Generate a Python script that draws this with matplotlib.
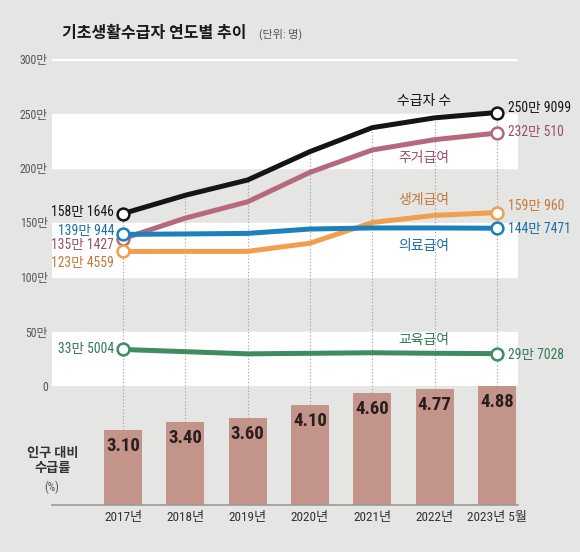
import matplotlib
matplotlib.use("Agg")
import matplotlib.pyplot as plt
import numpy as np

plt.rcParams['font.family'] = ['Roboto Condensed', 'Archivo Narrow', 'Noto Sans CJK KR', 'DejaVu Sans']

# values in 만 (10,000 people)
years = ['2017년', '2018년', '2019년', '2020년', '2021년', '2022년', '2023년 5월']
total = [158.1646, 175.0, 189.0, 215.0, 237.0, 246.0, 250.9099]
housing = [135.1427, 154.0, 169.0, 196.0, 216.5, 226.0, 232.0510]
living = [123.4559, 123.5, 123.5, 131.0, 150.0, 156.5, 159.0960]
medical = [139.0944, 139.5, 140.0, 144.0, 145.0, 145.0, 144.7471]
education = [33.5004, 31.5, 29.5, 30.0, 30.5, 30.0, 29.7028]
rate = [3.10, 3.40, 3.60, 4.10, 4.60, 4.77, 4.88]

BG = "#e5e5e3"
W, H = 580, 552


def fmt(v):
    n = int(round(v * 10000))
    return f"{n // 10000}만 {n % 10000}"


fig = plt.figure(figsize=(W / 100, H / 100), dpi=100, facecolor=BG)
ax = fig.add_axes([52 / W, (H - 386) / H, 466 / W, 327 / H])
ax.set_facecolor("none")
ax.set_xlim(-1.14, 6.34)
ax.set_ylim(0, 300)
for s in ax.spines.values():
    s.set_visible(False)
x = np.arange(len(years))

for lo in (0, 100, 200):
    ax.axhspan(lo, lo + 50, color="white", zorder=0)
ax.axhline(300, color="white", lw=2.5, zorder=0)

ax.set_yticks(range(0, 301, 50))
ax.set_yticklabels(["0"] + [f"{v}만" for v in range(50, 301, 50)])
ax.tick_params(axis="y", length=0, pad=3, labelsize=8.5, labelcolor="#555555")
ax.set_xticks([])

ax.vlines(x, 0, total, colors="#9a9a9a", lw=0.8, linestyles=(0, (1, 2)), zorder=1)

series = [
    (total, "#151515", "#151515"),
    (housing, "#b6697d", "#9c4d6b"),
    (living, "#f0a04c", "#c47a3a"),
    (medical, "#1c80bd", "#1a6fa8"),
    (education, "#3d8c62", "#2f7a57"),
]
for vals, col, _ in series:
    ax.plot(x, vals, color=col, lw=3.6, solid_capstyle="round", zorder=3, clip_on=False)
for vals, col, _ in series:
    ax.plot([x[0], x[-1]], [vals[0], vals[-1]], ls="none", marker="o", ms=8.5,
            mfc="white", mec=col, mew=1.8, zorder=5, clip_on=False)

# end-point value labels: offsets in pixels (up positive)
left_dy = [1.6, -6.5, -11.8, 3.6, 0.0]
right_dy = [4.5, 1.0, 6.6, -0.8, -1.5]
for (vals, col, tcol), ldy, rdy in zip(series, left_dy, right_dy):
    ax.annotate(fmt(vals[0]), (x[0], vals[0]), xytext=(-9 * 0.72, ldy * 0.72),
                textcoords="offset points", ha="right", va="center",
                fontsize=9.8, color=tcol, zorder=6)
    ax.annotate(fmt(vals[-1]), (x[-1], vals[-1]), xytext=(11 * 0.72, rdy * 0.72),
                textcoords="offset points", ha="left", va="center",
                fontsize=9.8, color=tcol, annotation_clip=False, zorder=6)

names = [("수급자 수", 261.5), ("주거급여", 209), ("생계급여", 170.6),
         ("의료급여", 128.4), ("교육급여", 42.2)]
for (name, yy), (_, _, tcol) in zip(names, series):
    ax.text(4.83, yy, name, ha="center", va="center", fontsize=10, color=tcol, zorder=6)

# bars: population ratio
ax2 = fig.add_axes([52 / W, (H - 505) / H, 466 / W, 119 / H])
ax2.set_facecolor("none")
ax2.set_xlim(-1.14, 6.34)
ax2.set_ylim(0, 4.9)
for s in ax2.spines.values():
    s.set_visible(False)
ax2.bar(x, rate, width=0.61, color="#c3958a", zorder=2)
ax2.vlines(x, rate, 4.9, colors="#9a9a9a", lw=0.8, linestyles=(0, (1, 2)), zorder=1)
ax2.axhline(0, color="#9a9a9a", lw=1.2, clip_on=False, zorder=3)
for xi, r in zip(x, rate):
    ax2.annotate(f"{r:.2f}", (xi, r), xytext=(0, -11.5), textcoords="offset points",
                 ha="center", va="center", fontsize=13.5, fontweight=900,
                 color="#2b1d1d", zorder=4)
ax2.set_yticks([])
ax2.set_xticks(x)
ax2.set_xticklabels(years)
ax2.tick_params(axis="x", length=0, pad=4, labelsize=9.5, labelcolor="#333333")

fig.text(62 / W, 1 - 33 / H, "기초생활수급자 연도별 추이", ha="left", va="center",
         fontsize=11.5, fontweight="bold", color="#1a1a1a")
fig.text(259 / W, 1 - 34 / H, "(단위: 명)", ha="left", va="center",
         fontsize=8, color="#555555")
fig.text(53 / W, 1 - 461 / H, "인구 대비\n수급률", ha="center", va="center",
         fontsize=9.5, fontweight="bold", color="#333333", linespacing=1.15)
fig.text(52 / W, 1 - 487 / H, "(%)", ha="center", va="center",
         fontsize=8.5, color="#555555")

fig.savefig("out.png", dpi=100, facecolor=BG)
